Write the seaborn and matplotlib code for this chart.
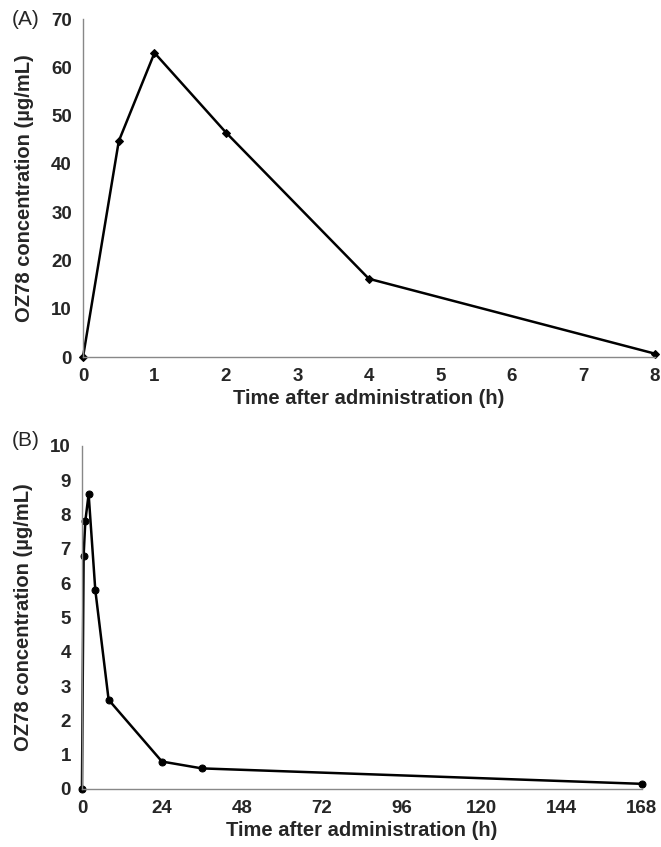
import matplotlib
matplotlib.use("Agg")
import matplotlib.pyplot as plt
import seaborn as sns
import pandas as pd

sns.set_style("white")
plt.rcParams['font.family'] = ['Liberation Sans', 'DejaVu Sans']

# Panel A data
time_a = [0, 0.5, 1, 2, 4, 8]
conc_a = [0, 44.7, 63.0, 46.5, 16.2, 0.7]

# Panel B data
time_b = [0, 0.5, 1, 2, 4, 8, 24, 36, 168]
conc_b = [0, 6.8, 7.8, 8.6, 5.8, 2.6, 0.8, 0.6, 0.15]

df_a = pd.DataFrame({"t": time_a, "c": conc_a})
df_b = pd.DataFrame({"t": time_b, "c": conc_b})

fig = plt.figure(figsize=(6.61, 8.47), dpi=100)
ax_a = fig.add_axes([0.1256, 0.5785, 0.865, 0.399])
ax_b = fig.add_axes([0.124, 0.0685, 0.847, 0.405])

sns.lineplot(data=df_a, x="t", y="c", ax=ax_a, color="black", linewidth=1.8,
             marker="D", markersize=4, markeredgecolor="black")
sns.lineplot(data=df_b, x="t", y="c", ax=ax_b, color="black", linewidth=1.8,
             marker="o", markersize=5, markeredgecolor="black")


def style(ax, xlim, ylim, xticks, yticks, tag, tag_y):
    ax.set_xlim(*xlim)
    ax.set_ylim(*ylim)
    ax.set_xticks(xticks)
    ax.set_yticks(yticks)
    for s in ["top", "right"]:
        ax.spines[s].set_visible(False)
    for s in ["left", "bottom"]:
        ax.spines[s].set_color("#888888")
        ax.spines[s].set_linewidth(1.0)
    ax.tick_params(direction="out", length=4, width=1, color="#888888",
                   labelsize=13.5, pad=4)
    for lab in ax.get_xticklabels() + ax.get_yticklabels():
        lab.set_fontweight("bold")
    ax.set_xlabel("Time after administration (h)", fontsize=14.5, fontweight="bold",
                  labelpad=3)
    ax.set_ylabel("OZ78 concentration (µg/mL)", fontsize=14.5, fontweight="bold",
                  labelpad=12)
    ax.text(-0.125, tag_y, tag, transform=ax.transAxes, fontsize=15,
            ha="left", va="center")
    for line in ax.lines:
        line.set_clip_on(False)


style(ax_a, (0, 8), (0, 70), range(0, 9), range(0, 71, 10), "(A)", 1.0)
style(ax_b, (0, 168), (0, 10), range(0, 169, 24), range(0, 11), "(B)", 1.015)

fig.savefig("out.png", dpi=100)
